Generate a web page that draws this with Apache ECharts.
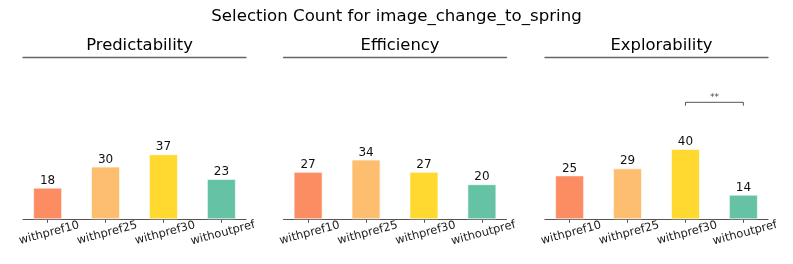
<!DOCTYPE html>
<html><head><meta charset="utf-8">
<script src="https://cdn.jsdelivr.net/npm/echarts@6/dist/echarts.min.js"></script>
<style>html,body{margin:0;padding:0;background:#fff}#c{width:793px;height:264px}</style>
</head><body><div id="c"></div>
<script>
var categories = ['withpref10', 'withpref25', 'withpref30', 'withoutpref'];
var panelTitles = ['Predictability', 'Efficiency', 'Explorability'];
var predictability = [18, 30, 37, 23];
var efficiency = [27, 34, 27, 20];
var explorability = [25, 29, 40, 14];
var barColors = ['#FC8D62', '#FDBF6F', '#FFD92F', '#66C2A5'];
// significance bracket in panel 3 between withpref30 and withoutpref
var sigBracket = [[2, 64.7], [2, 66.6], [3, 66.6], [3, 64.7]];
var sigLabel = [[2.5, 66.6, '**']];
var mainTitle = 'Selection Count for image_change_to_spring';

var FONT = 'DejaVu Sans';
var panels = [predictability, efficiency, explorability];
var lefts = [23, 283.5, 545];
var width = 223;
var grids = [], xAxes = [], yAxes = [], series = [], titles = [];
titles.push({text: mainTitle, left: 'center', top: 3, textStyle: {fontFamily: FONT, fontSize: 16.6, fontWeight: 'normal', color: '#000'}});
panels.forEach(function (vals, i) {
  grids.push({left: lefts[i], width: width, top: 57.7, height: 161.6});
  titles.push({text: panelTitles[i], left: lefts[i] + width / 2, textAlign: 'center', top: 33,
    textStyle: {fontFamily: FONT, fontSize: 16.4, fontWeight: 'normal', color: '#000'}});
  xAxes.push({type: 'value', gridIndex: i, min: -0.425, max: 3.425, position: 'bottom',
    splitLine: {show: false},
    axisLine: {show: true, onZero: false, lineStyle: {color: '#555', width: 1.2}},
    axisTick: {show: true, customValues: [0, 1, 2, 3], length: 3.5, lineStyle: {color: '#555'}},
    axisLabel: {show: true, customValues: [0, 1, 2, 3], rotate: 15, align: 'center', verticalAlign: 'top', margin: 8,
      fontFamily: FONT, fontSize: 11.5, color: '#222',
      formatter: function (v) { return categories[Math.round(v)]; }}});
  xAxes.push({type: 'value', gridIndex: i, min: -0.425, max: 3.425, position: 'top',
    splitLine: {show: false}, axisTick: {show: false}, axisLabel: {show: false},
    axisLine: {show: true, onZero: false, lineStyle: {color: '#666', width: 1.4}}});
  yAxes.push({type: 'value', gridIndex: i, min: 0, max: 92, show: false, splitLine: {show: false}});
  series.push({type: 'bar', xAxisIndex: 2 * i, yAxisIndex: i, barWidth: 29,
    data: vals.map(function (v, k) { return {value: [k, v], itemStyle: {color: barColors[k]}}; }),
    itemStyle: {borderColor: 'rgba(255,255,255,0.6)', borderWidth: 1},
    label: {show: true, position: 'top', distance: 1, fontFamily: FONT, fontSize: 12, color: '#111',
      formatter: function (p) { return p.value[1]; }}});
});
series.push({type: 'line', xAxisIndex: 4, yAxisIndex: 2, data: sigBracket, symbol: 'none',
  lineStyle: {color: '#555', width: 1}, silent: true});
series.push({type: 'scatter', xAxisIndex: 4, yAxisIndex: 2, data: sigLabel, symbolSize: 0,
  label: {show: true, position: 'top', distance: 0, fontFamily: FONT, fontSize: 9, color: '#111',
    formatter: function (p) { return p.value[2]; }}});

var chart = echarts.init(document.getElementById('c'), null, {renderer: 'canvas'});
chart.setOption({animation: false, backgroundColor: '#fff', title: titles, grid: grids,
  xAxis: xAxes, yAxis: yAxes, series: series});
</script></body></html>
